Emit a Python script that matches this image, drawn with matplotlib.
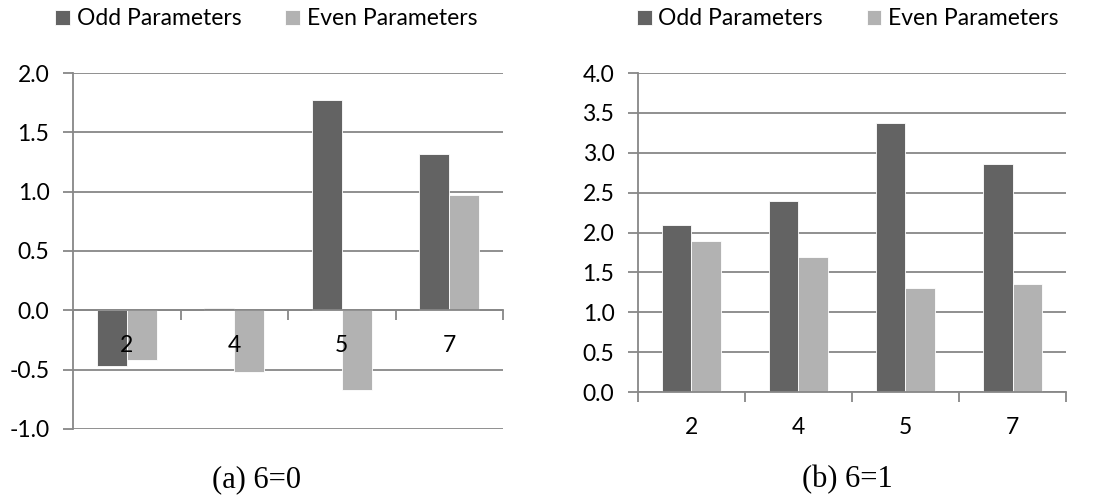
import numpy as np
import matplotlib.pyplot as plt
from matplotlib.ticker import FixedLocator

# parameter groups on the x axis
categories = ['2', '4', '5', '7']

# (a) 6=0
odd_a = [-0.47, 0.02, 1.77, 1.32]
even_a = [-0.42, -0.52, -0.67, 0.97]

# (b) 6=1
odd_b = [2.09, 2.39, 3.37, 2.86]
even_b = [1.89, 1.69, 1.31, 1.36]

ODD_COL = '#636363'
EVEN_COL = '#b2b2b2'
GRID_COL = '#878787'

plt.rcParams['font.family'] = ['Lato', 'DejaVu Sans']

fig = plt.figure(figsize=(10.93, 4.99), dpi=100)
axA = fig.add_axes([0.0668, 0.1403, 0.3934, 0.7134])
axB = fig.add_axes([0.5837, 0.2144, 0.3916, 0.6393])


def draw_panel(ax, odd, even, ylim, step, leg_x, leg_y):
    x = np.arange(len(categories))
    w = 0.28
    yt = np.arange(ylim[0], ylim[1] + step / 2, step)

    # horizontal grid behind the bars, axis text in front of them
    for v in yt:
        ax.axhline(v, color=GRID_COL, linewidth=1.3, zorder=1)
    ax.bar(x - w / 2, odd, w, color=ODD_COL, edgecolor='white', linewidth=0.6,
           label='Odd Parameters', zorder=2)
    ax.bar(x + w / 2, even, w, color=EVEN_COL, edgecolor='white', linewidth=0.6,
           label='Even Parameters', zorder=2)
    ax.set_axisbelow(False)

    ax.set_xlim(-0.5, len(categories) - 0.5)
    ax.set_ylim(*ylim)
    ax.set_yticks(yt)
    ax.set_yticklabels(['%.1f' % v for v in yt])

    # tick marks between categories, labels centred on groups
    ax.xaxis.set_major_locator(FixedLocator(np.arange(-0.5, len(categories), 1.0)))
    ax.xaxis.set_minor_locator(FixedLocator(x))
    ax.set_xticklabels([], minor=False)
    ax.set_xticklabels(categories, minor=True)
    ax.tick_params(axis='x', which='major', length=7, width=1.3, color=GRID_COL)
    ax.tick_params(axis='x', which='minor', length=0, pad=18, labelsize=16.5)
    ax.tick_params(axis='y', length=7, width=1.3, color=GRID_COL, labelsize=16.5, pad=10)

    for s in ['top', 'right']:
        ax.spines[s].set_visible(False)
    ax.spines['left'].set_color(GRID_COL)
    ax.spines['left'].set_linewidth(1.3)
    ax.spines['bottom'].set_color(GRID_COL)
    ax.spines['bottom'].set_linewidth(1.3)
    ax.spines['bottom'].set_position(('data', 0))

    ax.legend(loc='center', bbox_to_anchor=(leg_x, leg_y), ncol=2, frameon=False,
              fontsize=16.5, handlelength=0.65, handleheight=0.65,
              handletextpad=0.3, columnspacing=1.9, borderaxespad=0)


draw_panel(axA, odd_a, even_a, (-1.0, 2.0), 0.5, 0.45, 1.152)
draw_panel(axB, odd_b, even_b, (0.0, 4.0), 0.5, 0.49, 1.17)

fig.text(257 / 1093, 1 - 480 / 499, '(a) 6=0', family='Liberation Serif',
         fontsize=22, ha='center', va='center')
fig.text(847 / 1093, 1 - 480 / 499, '(b) 6=1', family='Liberation Serif',
         fontsize=22, ha='center', va='center')

fig.savefig('out.png', dpi=100)
